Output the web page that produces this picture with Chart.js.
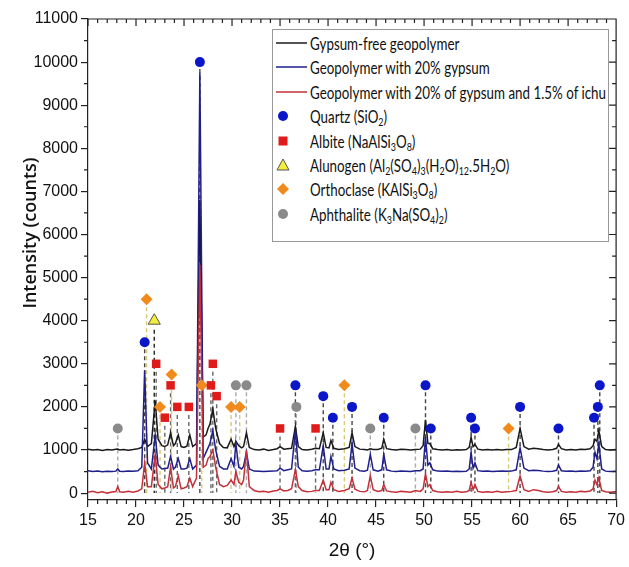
<!DOCTYPE html>
<html>
<head>
<meta charset="utf-8">
<script src="https://cdn.jsdelivr.net/npm/chart.js@4.4.0/dist/chart.umd.min.js"></script>
<style>
body { margin: 0; background: #fff; }
#wrap { position: relative; width: 629px; height: 567px; }
#legend {
  position: absolute; left: 272px; top: 29px; width: 337px; height: 213px;
  box-sizing: border-box; border: 1px solid #999; background: #fff;
  font-family: 'Lato', sans-serif; font-size: 18px; color: #111;
}
.row { position: absolute; left: 0; height: 24px; line-height: 24px; white-space: nowrap; }
.sym { position: absolute; left: 3px; top: 0; width: 32px; height: 24px; }
.txt { position: absolute; left: 37px; top: 0; display: inline-block; transform-origin: 0 50%; }
sub { font-size: 12px; vertical-align: -3px; line-height: 0; }
</style>
</head>
<body>
<div id="wrap">
  <canvas id="myChart" width="629" height="567"></canvas>
  <div id="legend"></div>
</div>
<script>
// 2theta positions shared by the three patterns
const twoTheta = [
  15, 15.5, 16, 16.5, 17, 17.5, 17.9, 18.1, 18.3, 18.7,
  19.2, 19.7, 20.2, 20.6, 20.9, 21.2, 21.6, 22.0, 22.3, 22.7,
  23.0, 23.3, 23.6, 23.9, 24.1, 24.4, 24.7, 25.0, 25.3, 25.6,
  25.9, 26.3, 26.65, 27.0, 27.3, 27.5, 27.7, 28.0, 28.3, 28.7,
  29.1, 29.5, 29.9, 30.2, 30.4, 30.7, 31.0, 31.2, 31.5, 31.8,
  32.3, 32.8, 33.3, 33.8, 34.3, 34.7, 35.0, 35.4, 35.8, 36.2,
  36.6, 36.9, 37.3, 37.8, 38.3, 38.7, 39.1, 39.5, 39.8, 40.1,
  40.3, 40.6, 41.1, 41.7, 42.2, 42.5, 42.8, 43.3, 43.8, 44.1,
  44.4, 44.7, 45.2, 45.6, 45.8, 46.1, 46.6, 47.1, 47.6, 48.1,
  48.6, 49.1, 49.6, 49.9, 50.15, 50.4, 50.6, 50.9, 51.4, 51.9,
  52.4, 52.9, 53.4, 53.9, 54.4, 54.7, 54.9, 55.1, 55.3, 55.6,
  56.1, 56.6, 57.1, 57.6, 58.1, 58.6, 59.1, 59.6, 60.0, 60.4,
  60.9, 61.4, 61.9, 62.4, 62.9, 63.4, 63.8, 64.0, 64.3, 64.8,
  65.3, 65.8, 66.3, 66.8, 67.3, 67.6, 67.8, 68.0, 68.2, 68.5,
  68.9, 69.4, 70
];

const gypsumFree = [
  1020, 1000, 1010, 990, 1010, 1000, 1015, 1020, 1000, 1010,
  995, 1010, 1030, 1060, 1250, 1080, 1150, 2150, 1250, 1100,
  1080, 1120, 1400, 1100, 1150, 1350, 1080, 1060, 1090, 1350,
  1080, 1150, 6800, 1300, 1350, 1500, 1600, 1950, 1500, 1150,
  1060, 1050, 1250, 1080, 1200, 1100, 1050, 1080, 1400, 1060,
  1010, 1000, 1020, 990, 1010, 1030, 1080, 1020, 1030, 1040,
  1550, 1080, 1010, 1000, 1020, 1040, 1030, 1400, 1060, 1050,
  1220, 1040, 1010, 1030, 1060, 1400, 1080, 1020, 1010, 1000,
  1030, 1010, 1010, 1040, 1250, 1030, 1010, 1000, 1020, 1010,
  1000, 1010, 1020, 1100, 1700, 1150, 1150, 1030, 1010, 1000,
  1010, 995, 1005, 1000, 1010, 1060, 1300, 1080, 1130, 1020,
  1000, 1010, 1000, 1010, 1000, 1010, 1010, 1060, 1500, 1080,
  1020, 1040, 1030, 1010, 1000, 1010, 1040, 1130, 1030, 1000,
  1010, 1000, 1020, 1010, 1030, 1100, 1250, 1200, 1450, 1080,
  1010, 1000, 1010
];

const gypsum20 = [
  520, 500, 510, 495, 505, 500, 510, 560, 505, 500,
  510, 505, 520, 600, 2850, 700, 560, 1350, 650, 560,
  570, 580, 850, 560, 600, 800, 560, 560, 580, 800,
  560, 650, 9750, 800, 950, 1050, 1150, 1450, 1000, 620,
  560, 560, 800, 620, 1150, 600, 560, 620, 950, 560,
  510, 505, 500, 505, 510, 520, 580, 520, 540, 560,
  1450, 600, 520, 505, 520, 540, 540, 1100, 560, 560,
  850, 560, 520, 530, 560, 1150, 580, 520, 510, 530,
  900, 540, 510, 540, 900, 540, 510, 500, 510, 505,
  500, 520, 520, 560, 1300, 650, 700, 540, 510, 505,
  510, 500, 505, 500, 505, 560, 950, 580, 700, 520,
  505, 510, 500, 505, 510, 505, 510, 540, 1050, 580,
  520, 530, 525, 510, 500, 505, 530, 650, 520, 505,
  510, 500, 510, 505, 520, 600, 950, 800, 1150, 560,
  510, 500, 505
];

const gypsumIchu = [
  20, 40, 10, 30, 0, 25, 35, 150, 30, 20,
  40, 20, 50, 100, 700, 150, 150, 900, 200, 100,
  120, 150, 600, 120, 150, 400, 100, 120, 150, 350,
  150, 350, 5300, 600, 650, 800, 850, 1000, 600, 200,
  150, 180, 300, 200, 500, 250, 200, 300, 1000, 150,
  60, 30, 40, 20, 50, 60, 100, 50, 60, 100,
  550, 150, 60, 30, 40, 60, 60, 300, 80, 80,
  250, 80, 40, 60, 100, 350, 90, 40, 30, 60,
  400, 80, 40, 60, 200, 50, 30, 20, 40, 30,
  20, 60, 40, 100, 450, 150, 200, 60, 30, 20,
  30, 20, 40, 20, 30, 60, 250, 80, 200, 40,
  20, 30, 20, 40, 20, 30, 40, 60, 400, 80,
  40, 80, 60, 30, 20, 30, 60, 150, 40, 20,
  30, 20, 40, 30, 50, 100, 300, 200, 350, 60,
  30, 20, 40
];

// phase markers
const quartzX = [20.9, 26.65, 36.6, 39.5, 40.5, 42.5, 45.8, 50.15, 50.7, 54.9, 55.3, 60.0, 64.0, 67.7, 68.1, 68.3];
const quartzY = [3500, 10000, 2500, 2250, 1750, 2000, 1750, 2500, 1500, 1750, 1500, 2000, 1500, 1750, 2000, 2500];
const albiteX = [22.1, 23.0, 23.6, 24.3, 25.5, 27.8, 28.0, 28.4, 35.0, 38.7];
const albiteY = [3000, 1750, 2500, 2000, 2000, 2500, 3000, 2250, 1500, 1500];
const alunogenX = [21.9];
const alunogenY = [4000];
const orthoclaseX = [21.1, 22.5, 23.7, 26.85, 29.9, 30.8, 41.7, 58.8];
const orthoclaseY = [4500, 2000, 2750, 2500, 2000, 2000, 2500, 1500];
const aphthaliteX = [18.1, 30.4, 31.5, 36.7, 44.4, 49.1];
const aphthaliteY = [1500, 2500, 2500, 2000, 1500, 1500];

const xTickValues = [15, 20, 25, 30, 35, 40, 45, 50, 55, 60, 65, 70];
const yTickValues = [0, 1000, 2000, 3000, 4000, 5000, 6000, 7000, 8000, 9000, 10000, 11000];

const seriesNames = [
  'Gypsum-free geopolymer',
  'Geopolymer with 20% gypsum',
  'Geopolymer with 20% of gypsum and 1.5% of ichu'
];
const phaseNames = [
  'Quartz (SiO<sub>2</sub>)',
  'Albite (NaAlSi<sub>3</sub>O<sub>8</sub>)',
  'Alunogen (Al<sub>2</sub>(SO<sub>4</sub>)<sub>3</sub>(H<sub>2</sub>O)<sub>12</sub>.5H<sub>2</sub>O)',
  'Orthoclase (KAlSi<sub>3</sub>O<sub>8</sub>)',
  'Aphthalite (K<sub>3</sub>Na(SO<sub>4</sub>)<sub>2</sub>)'
];

const xTitle = '2θ (°)';
const yTitle = 'Intensity (counts)';

const lineColors = ['#1a1a1a', '#1f1f8c', '#c3303a'];

const zip = (xs, ys) => xs.map((x, i) => ({ x: x, y: ys[i] }));

function lineSet(label, values, color, order) {
  return {
    label: label,
    data: zip(twoTheta, values),
    showLine: true,
    borderColor: color,
    borderWidth: 1.5,
    pointRadius: 0,
    tension: 0,
    order: order
  };
}

function markerSet(label, xs, ys, style, fill, r, dropColor) {
  return {
    label: label,
    data: zip(xs, ys),
    showLine: false,
    pointStyle: style,
    pointRadius: r,
    backgroundColor: fill,
    borderColor: style === 'triangle' ? '#555' : fill,
    borderWidth: style === 'triangle' ? 1 : 0,
    dropColor: dropColor,
    order: 0
  };
}

const dropLines = {
  id: 'dropLines',
  beforeDatasetsDraw(chart) {
    const ctx = chart.ctx;
    const y0 = chart.scales.y.getPixelForValue(0);
    ctx.save();
    ctx.lineWidth = 1.4;
    ctx.setLineDash([4, 3]);
    chart.data.datasets.forEach((ds, i) => {
      if (!ds.dropColor) return;
      ctx.strokeStyle = ds.dropColor;
      chart.getDatasetMeta(i).data.forEach(pt => {
        ctx.beginPath();
        ctx.moveTo(pt.x, pt.y + ds.pointRadius + 2);
        ctx.lineTo(pt.x, y0);
        ctx.stroke();
      });
    });
    ctx.restore();
  }
};

const frame = {
  id: 'frame',
  afterDraw(chart) {
    const { ctx, chartArea, scales } = chart;
    const { left, right, top, bottom } = chartArea;
    ctx.save();
    ctx.strokeStyle = '#222';
    ctx.lineWidth = 1.2;
    ctx.beginPath();
    ctx.moveTo(left, top);
    ctx.lineTo(right, top);
    ctx.lineTo(right, bottom);
    for (let v = 15; v <= 70; v++) {
      const px = scales.x.getPixelForValue(v);
      const len = v % 5 === 0 ? 7 : 4;
      ctx.moveTo(px, top);
      ctx.lineTo(px, top + len);
      if (v % 5 !== 0) {
        ctx.moveTo(px, bottom);
        ctx.lineTo(px, bottom + 4);
      }
    }
    for (let v = 0; v <= 11000; v += 500) {
      const py = scales.y.getPixelForValue(v);
      const len = v % 1000 === 0 ? 7 : 4;
      ctx.moveTo(right, py);
      ctx.lineTo(right - len, py);
      if (v % 1000 !== 0) {
        ctx.moveTo(left, py);
        ctx.lineTo(left - 4, py);
      }
    }
    ctx.stroke();

    ctx.translate(31, 233);
    ctx.rotate(-Math.PI / 2);
    ctx.fillStyle = '#111';
    ctx.font = '600 18px "Open Sans"';
    ctx.textAlign = 'center';
    ctx.textBaseline = 'middle';
    ctx.fillText(yTitle, 0, 0);
    ctx.restore();
  }
};

const tickFont = { family: 'Liberation Sans', size: 16 };

const config = {
  type: 'scatter',
  data: {
    datasets: [
      markerSet('Quartz', quartzX, quartzY, 'circle', '#0a16c8', 5, '#444'),
      markerSet('Albite', albiteX, albiteY, 'rect', '#e01b1b', 6, '#666'),
      markerSet('Alunogen', alunogenX, alunogenY, 'triangle', '#f2ee3a', 7, '#222'),
      markerSet('Orthoclase', orthoclaseX, orthoclaseY, 'rectRot', '#f08a1c', 6, '#d8c878'),
      markerSet('Aphthalite', aphthaliteX, aphthaliteY, 'circle', '#8a8a8a', 5, '#aaa'),
      lineSet(seriesNames[2], gypsumIchu, lineColors[2], 1),
      lineSet(seriesNames[1], gypsum20, lineColors[1], 2),
      lineSet(seriesNames[0], gypsumFree, lineColors[0], 3)
    ]
  },
  options: {
    responsive: false,
    animation: false,
    layout: { padding: { left: 0, right: 10, top: 19, bottom: 0 } },
    plugins: { legend: { display: false }, tooltip: { enabled: false } },
    scales: {
      x: {
        type: 'linear', min: 15, max: 70,
        afterBuildTicks: s => { s.ticks = xTickValues.map(v => ({ value: v })); },
        afterFit: s => { s.height = 67; },
        ticks: { padding: 4, color: '#111', font: tickFont, callback: v => String(v) },
        grid: { display: true, drawOnChartArea: false, tickLength: 7, color: '#222', lineWidth: 1.2 },
        border: { display: true, color: '#222', width: 1.2 },
        title: { display: true, text: xTitle, color: '#111', font: { family: 'Liberation Sans', size: 19 }, padding: { top: 0, bottom: 5 } }
      },
      y: {
        type: 'linear', min: -160, max: 11000,
        afterBuildTicks: s => { s.ticks = yTickValues.map(v => ({ value: v })); },
        afterFit: s => { s.width = 88; },
        ticks: { padding: 3, color: '#111', font: tickFont, callback: v => String(v) },
        grid: { display: true, drawOnChartArea: false, tickLength: 7, color: '#222', lineWidth: 1.2 },
        border: { display: true, color: '#222', width: 1.2 }
      }
    }
  },
  plugins: [dropLines, frame]
};

new Chart(document.getElementById('myChart'), config);

// legend box
const symbols = [
  `<line x1="0" y1="12" x2="31" y2="12" stroke="${lineColors[0]}" stroke-width="1.5"/>`,
  `<line x1="0" y1="12" x2="31" y2="12" stroke="${lineColors[1]}" stroke-width="1.5"/>`,
  `<line x1="0" y1="12" x2="31" y2="12" stroke="${lineColors[2]}" stroke-width="1.5"/>`,
  '<circle cx="7" cy="12" r="5" fill="#0a16c8"/>',
  '<rect x="2.5" y="7.5" width="9" height="9" fill="#e01b1b"/>',
  '<polygon points="7,6 13,17 1,17" fill="#f2ee3a" stroke="#555" stroke-width="1"/>',
  '<polygon points="7,6 13,12 7,18 1,12" fill="#f08a1c"/>',
  '<circle cx="7" cy="12" r="5" fill="#8a8a8a"/>'
];
const labels = seriesNames.concat(phaseNames);
const legend = document.getElementById('legend');
labels.forEach((txt, i) => {
  const top = 1 + i * 24.4;
  legend.innerHTML += `<div class="row" style="top:${top}px">
    <svg class="sym" width="32" height="24">${symbols[i]}</svg>
    <span class="txt">${txt}</span></div>`;
});
// squeeze the text so the longest line fits like the condensed original
const spans = legend.querySelectorAll('.txt');
const widest = Math.max(...Array.from(spans).map(s => s.getBoundingClientRect().width));
const squeeze = 296 / widest;
spans.forEach(s => { s.style.transform = `scaleX(${squeeze})`; });
</script>
</body>
</html>
